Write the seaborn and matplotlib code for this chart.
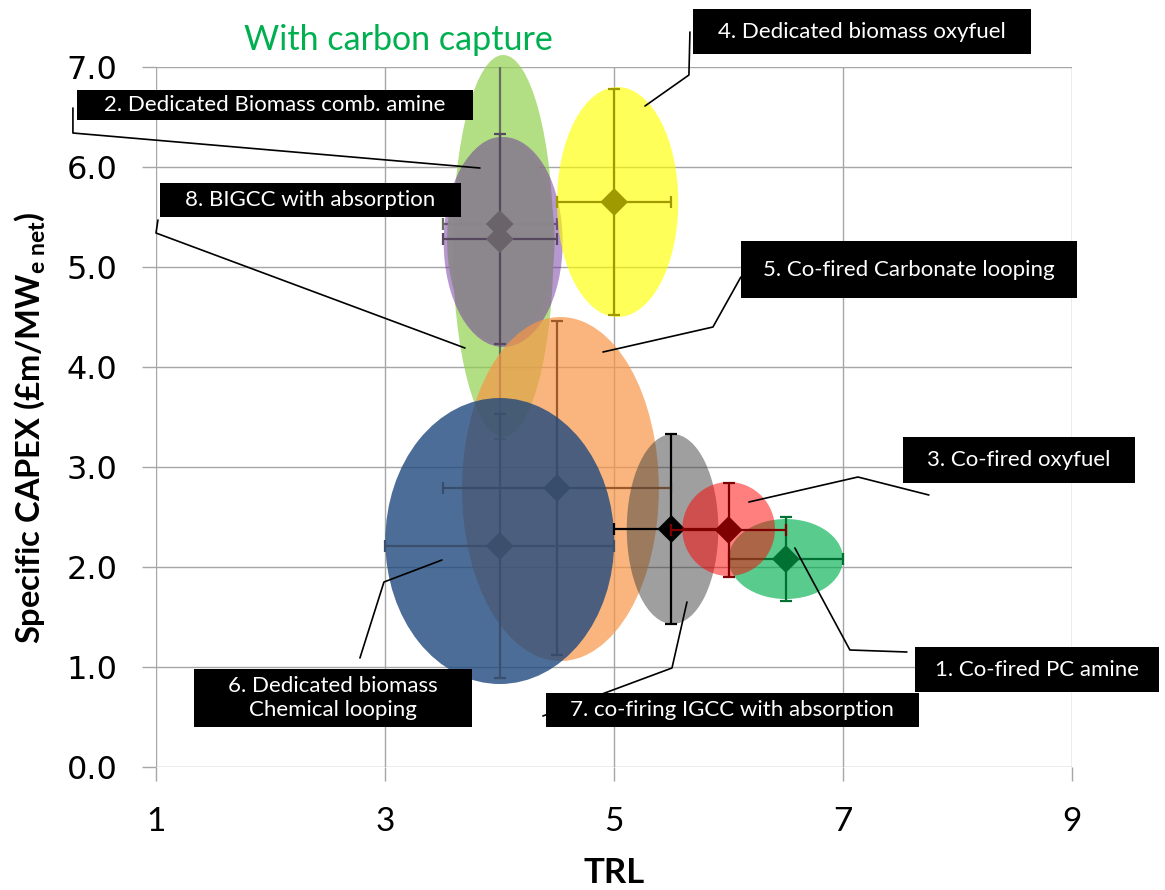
import numpy as np
import pandas as pd
import matplotlib
matplotlib.use("Agg")
import matplotlib.pyplot as plt
from matplotlib.patches import Ellipse, Rectangle
import seaborn as sns

# Dados (TRL x CAPEX específico)
labels = ['1. Co-fired PC amine', '2. Dedicated Biomass comb. amine', '3. Co-fired oxyfuel',
          '4. Dedicated biomass oxyfuel', '5. Co-fired Carbonate looping',
          '6. Dedicated biomass\nChemical looping', '7. co-firing IGCC with absorption',
          '8. BIGCC with absorption']
trl = [6.5, 4.0, 6.0, 5.0, 4.5, 4.0, 5.5, 4.0]
capex = [2.08, 5.28, 2.37, 5.65, 2.79, 2.21, 2.38, 5.43]
trl_err = [0.5, 0.5, 0.5, 0.5, 1.0, 1.0, 0.5, 0.5]
capex_err = [0.42, 1.05, 0.47, 1.13, 1.67, 1.32, 0.95, 2.15]

# elipses de incerteza (centro x, centro y, semi-largura, semi-altura)
ell_x = [6.5, 4.01, 6.0, 5.03, 4.53, 4.0, 5.51, 4.03]
ell_y = [2.08, 5.27, 2.38, 5.65, 2.78, 2.26, 2.38, 5.21]
ell_hw = [0.5, 0.47, 0.405, 0.53, 0.86, 1.0, 0.40, 0.44]
ell_hh = [0.40, 1.03, 0.47, 1.15, 1.72, 1.43, 0.95, 1.91]

df = pd.DataFrame({'label': labels, 'trl': trl, 'capex': capex, 'trl_err': trl_err,
                   'capex_err': capex_err, 'ex': ell_x, 'ey': ell_y, 'hw': ell_hw, 'hh': ell_hh})

fill_colors = ['#00b050', '#8c888c', '#ff0000', '#ffff00', '#f79646', '#1f497d', '#404040', '#92d050']
fill_alpha = [0.65, 0.95, 0.5, 0.65, 0.7, 0.8, 0.5, 0.7]
mark_colors = ['#007033', '#6a646a', '#7f0000', '#9f9a00', '#9c5a2a', '#3c4f6d', '#000000', '#6a646a']
bar_colors = ['#007033', '#55485f', '#7f0000', '#9f9a00', '#9c5a2a', '#3c4f6d', '#000000', '#66705a']

# ordem de desenho (camadas)
draw_order = [7, 1, 3, 4, 5, 6, 0, 2]

# caixas de rótulos: centro (x, y), largura, altura em unidades de dados
box_cx = [8.694, 2.035, 8.537, 7.165, 7.576, 2.542, 6.033, 2.346]
box_cy = [0.975, 6.62, 3.07, 7.355, 4.975, 0.69, 0.57, 5.67]
box_w = [2.132, 3.46, 2.027, 2.954, 2.936, 2.429, 3.259, 2.63]
box_h = [0.45, 0.30, 0.46, 0.45, 0.57, 0.58, 0.34, 0.34]

# linhas de chamada (caixa -> cotovelo -> ponto)
lead_x = [[7.558, 7.060, 6.579], [0.270, 0.270, 3.827], [7.750, 7.130, 6.177], [5.662, 5.653, 5.269],
          [6.107, 5.863, 4.902], [2.778, 2.988, 3.495], [4.377, 5.505, 5.636], [1.013, 0.996, 3.696]]
lead_y = [[1.15, 1.17, 2.19], [6.59, 6.34, 5.99], [2.72, 2.90, 2.65], [7.35, 6.92, 6.61],
          [4.90, 4.40, 4.15], [1.09, 1.85, 2.07], [0.51, 0.99, 1.65], [5.47, 5.34, 4.19]]

sns.set_theme(style='whitegrid')
plt.rcParams['font.family'] = ['Lato', 'DejaVu Sans']
plt.rcParams['mathtext.fontset'] = 'custom'
plt.rcParams['mathtext.rm'] = 'Lato:bold'
plt.rcParams['mathtext.bf'] = 'Lato:bold'
plt.rcParams['mathtext.it'] = 'Lato:bold:italic'

fig = plt.figure(figsize=(11.65, 8.9), dpi=100)
ax = fig.add_axes([0.1343, 0.1382, 0.7858, 0.7865])
ax.set_axisbelow(True)

for k, i in enumerate(draw_order):
    r = df.iloc[i]
    z = 2 + k * 0.1
    if i == 1:
        # elipse roxa por trás da cinzenta
        ax.add_patch(Ellipse((r.ex + 0.02, r.ey - 0.02), 2 * (r.hw + 0.05), 2 * (r.hh + 0.02),
                             facecolor='#7030a0', alpha=0.5, lw=0, zorder=z, clip_on=False))
    ax.add_patch(Ellipse((r.ex, r.ey), 2 * r.hw, 2 * r.hh, facecolor=fill_colors[i],
                         alpha=fill_alpha[i], lw=0, zorder=z + 0.01, clip_on=False))
    ax.errorbar(r.trl, r.capex, xerr=r.trl_err, yerr=r.capex_err, fmt='none',
                ecolor=bar_colors[i], elinewidth=1.6, capsize=4, capthick=1.6, zorder=z + 0.02)
    # o losango da série 8 fica visível por cima da elipse cinzenta
    mz = 2.15 if i == 7 else z + 0.03
    sns.scatterplot(x=[r.trl], y=[r.capex], marker='D', s=200, color=mark_colors[i],
                    edgecolor='none', ax=ax, zorder=mz, legend=False)

for i in range(len(labels)):
    ax.plot(lead_x[i], lead_y[i], color='black', lw=1.2, zorder=5, clip_on=False)
    ax.add_patch(Rectangle((box_cx[i] - box_w[i] / 2, box_cy[i] - box_h[i] / 2), box_w[i], box_h[i],
                           facecolor='black', edgecolor='none', zorder=6, clip_on=False))
    ax.text(box_cx[i], box_cy[i], labels[i], color='white', fontsize=16, ha='center', va='center',
            linespacing=1.2, zorder=7, clip_on=False)

ax.text(3.115, 7.17, 'With carbon capture', color='#00b050', fontsize=24.5, ha='center',
        va='baseline', zorder=7, clip_on=False)

ax.set_xlim(1, 9)
ax.set_ylim(0, 7)
ax.set_xticks([1, 3, 5, 7, 9])
ax.set_yticks(np.arange(0, 8))
ax.set_yticklabels([f'{v:.1f}' for v in np.arange(0, 8)], fontfamily='DejaVu Sans', fontsize=23)
ax.set_xticklabels(['1', '3', '5', '7', '9'], fontsize=24)
ax.grid(True, color='#a6a6a6', lw=1.0)
for s in ax.spines.values():
    s.set_visible(False)
ax.tick_params(axis='both', which='major', direction='out', length=10, width=1.0,
               color='#a6a6a6', labelcolor='black', left=True, bottom=True)
ax.tick_params(axis='y', pad=18)
ax.tick_params(axis='x', pad=19)

ax.set_xlabel('TRL', fontsize=25, fontweight='bold', color='black')
ax.set_ylabel('Specific CAPEX (£m/MW$_{\\mathrm{e\\ net}}$)', fontsize=23.5, fontweight='bold', color='black')
ax.xaxis.set_label_coords(0.5, -0.128)
ax.yaxis.set_label_coords(-0.12, 0.485)

fig.savefig('out.png', dpi=100, facecolor='white')
